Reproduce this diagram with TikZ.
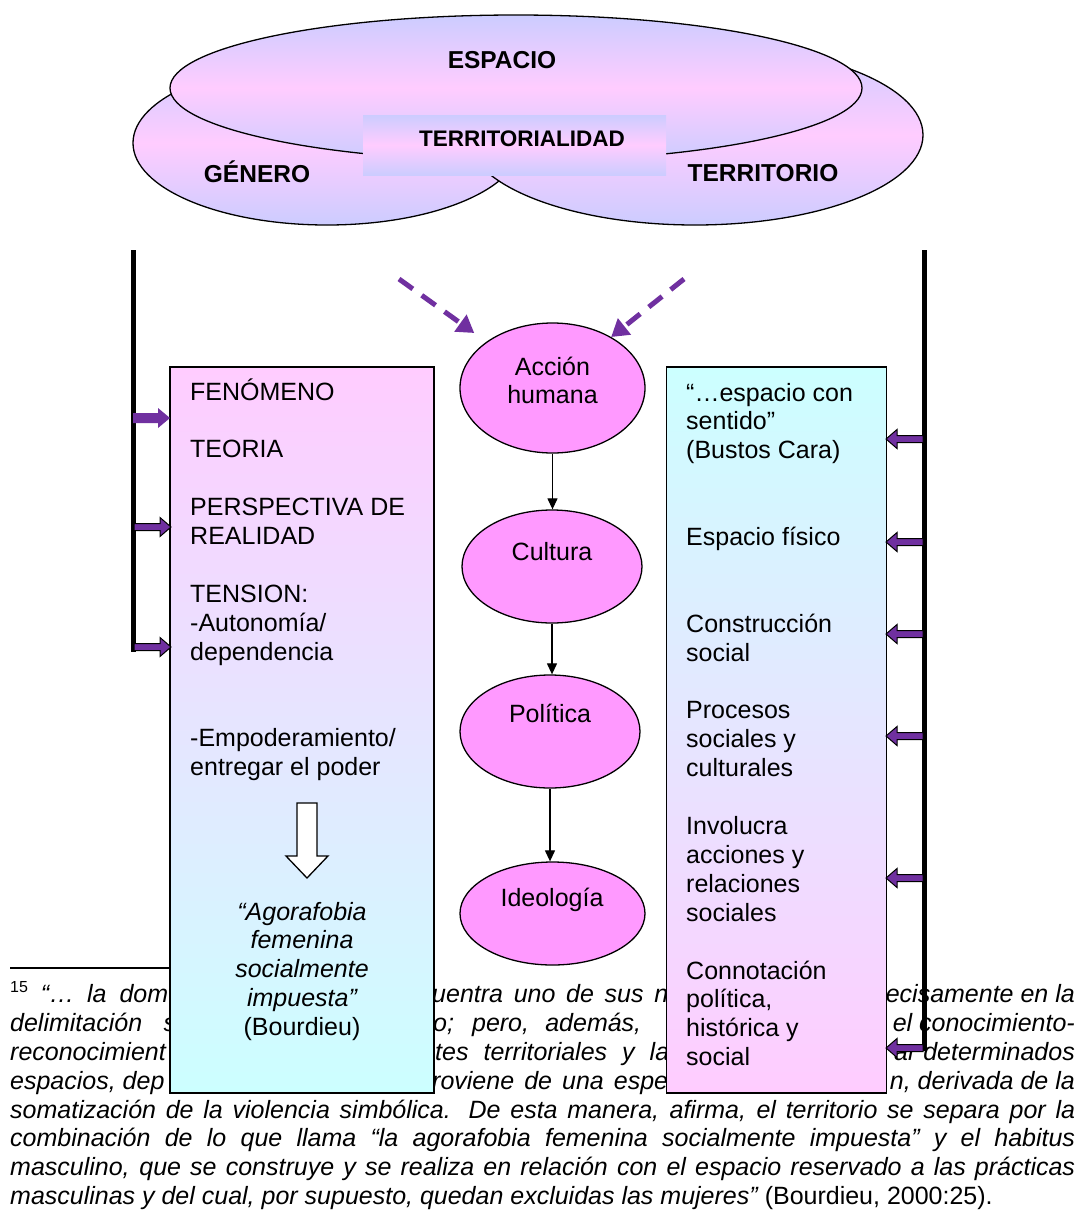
\documentclass[tikz,border=0pt]{standalone}
\usepackage{fontspec}
\setmainfont{Liberation Sans}
\usetikzlibrary{shapes.geometric,arrows.meta}

\definecolor{lav}{HTML}{CCCCFF}
\definecolor{pnk}{HTML}{FFCCFF}
\definecolor{cyn}{HTML}{CCFFFF}
\definecolor{mag}{HTML}{FF99FF}
\definecolor{vio}{HTML}{7030A0}

\tikzset{
  cloudpart/.style={ellipse, draw=black, line width=1.3pt, inner sep=0pt,
    top color=lav, bottom color=lav, middle color=pnk},
  cloudlbl/.style={font=\fontsize{24.5}{28}\selectfont\bfseries, inner sep=0pt, anchor=base},
  listbox/.style={rectangle, draw=black, line width=1.2pt, inner sep=0pt},
  bodytxt/.style={font=\fontsize{25}{28.9}\selectfont, inner sep=0pt, anchor=base west},
  stage/.style={ellipse, draw=black, line width=1.3pt, fill=mag, inner sep=0pt},
  stagetxt/.style={font=\fontsize{25}{28.9}\selectfont, inner sep=0pt, anchor=base},
  flow/.style={line width=1.2pt, -{Triangle[length=11pt,width=10pt]}},
  feed/.style={vio, line width=5pt, dash pattern=on 17pt off 11pt,
    -{Triangle[length=17pt,width=20pt]}},
  bar/.style={line width=5pt},
  fnt/.style={font=\fontsize{25}{28.9}\selectfont\itshape, inner sep=0pt},
  pics/thinarrow/.style={code={
    \filldraw[fill=vio, draw=black, line width=1pt]
      (0,-3.5) -- (26,-3.5) -- (26,-9.5) -- (37,0) -- (26,9.5) -- (26,3.5) -- (0,3.5) -- cycle;}},
  pics/fatarrow/.style={code={
    \fill[vio] (0,-5) -- (25,-5) -- (25,-10) -- (37,0) -- (25,10) -- (25,5) -- (0,5) -- cycle;}},
}

\begin{document}
\begin{tikzpicture}[x=1pt, y=-1pt]
\useasboundingbox (0,0) rectangle (1081,1211);
\fill[white] (0,0) rectangle (1081,1211);

% cloud of concepts
\node[cloudpart, minimum width=388pt, minimum height=164pt] (gen) at (327,143) {};
\node[cloudpart, minimum width=456pt, minimum height=180pt] (ter) at (695,135) {};
\node[cloudpart, minimum width=692pt, minimum height=146pt] (esp) at (516,88) {};
\node[rectangle, inner sep=0pt, minimum width=303pt, minimum height=60pt,
      top color=lav, bottom color=lav, middle color=pnk] (tty) at (514.5,145) {};
\node[cloudlbl] (esp-t) at (502,68) {ESPACIO};
\node[cloudlbl] (gen-t) at (257,182) {GÉNERO};
\node[cloudlbl] (ter-t) at (763,181) {TERRITORIO};
\node[cloudlbl, font=\fontsize{22.5}{26}\selectfont\bfseries] (tty-t) at (522,146) {TERRITORIALIDAD};

% footnote
\draw[line width=1.3pt] (10,968) -- (175,968);
\node[fnt, anchor=base west] (f1a) at (10,1002)
  {\makebox[158pt][s]{\raisebox{10pt}{\fontsize{16}{16}\selectfont\upshape 15} “… la dom}};
\node[fnt, anchor=base west] (f1b) at (432,1002) {\makebox[236pt][s]{uentra uno de sus n}};
\node[fnt, anchor=base east] (f1c) at (1075,1002) {ecisamente en la};
\node[fnt, anchor=base west] (f2a) at (10,1031) {\makebox[166pt][s]{delimitación s}};
\node[fnt, anchor=base west] (f2b) at (433,1031) {\makebox[208pt][s]{o; pero, además,}};
\node[fnt, anchor=base east] (f2c) at (1075,1031) {el conocimiento-};
\node[fnt, anchor=base west] (f3a) at (10,1060) {reconocimient};
\node[fnt, anchor=base west] (f3b) at (435,1060) {\makebox[234pt][s]{tes territoriales y la}};
\node[fnt, anchor=base east] (f3c) at (1075,1060) {ar determinados};
\node[fnt, anchor=base west] (f4a) at (10,1089) {espacios, dep};
\node[fnt, anchor=base west] (f4b) at (432,1089) {\makebox[236pt][s]{roviene de una espe}};
\node[fnt, anchor=base east] (f4c) at (1075,1089) {n, derivada de la};
\node[fnt, anchor=base west] (frest) at (10,1118) {\parbox[t]{1065pt}{%
  \makebox[1065pt][s]{somatización de la violencia simbólica. De esta manera, afirma, el territorio se separa por la}\\
  \makebox[1065pt][s]{combinación de lo que llama “la agorafobia femenina socialmente impuesta” y el habitus}\\
  \makebox[1065pt][s]{masculino, que se construye y se realiza en relación con el espacio reservado a las prácticas}\\
  masculinas y del cual, por supuesto, quedan excluidas las mujeres” {\upshape (Bourdieu, 2000:25).}}};

% side bars
\draw[bar] (133.5,250) -- (133.5,652);
\draw[bar] (924.5,250) -- (924.5,1051);

% left list
\node[listbox, minimum width=264pt, minimum height=726pt, top color=pnk, bottom color=cyn] (lbox) at (302,730) {};
\node[bodytxt] (ltxt) at (190,400) {\parbox[t]{240pt}{\raggedright
  FENÓMENO\\[28.9pt]TEORIA\\[28.9pt]PERSPECTIVA DE\\REALIDAD\\[28.9pt]TENSION:\\-Autonomía/\\dependencia\\[57.8pt]-Empoderamiento/\\entregar el poder}};
\draw[line width=1.3pt, fill=white] (297,803) -- (317,803) -- (317,856) -- (328,856) -- (307,878)
  -- (286,856) -- (297,856) -- cycle;
\node[bodytxt, anchor=base] (ltxt2) at (302,920) {\parbox[t]{240pt}{\centering\itshape
  “Agorafobia\\femenina\\socialmente\\impuesta”\\\upshape(Bourdieu)}};

% right list
\node[listbox, minimum width=220pt, minimum height=726pt, top color=cyn, bottom color=pnk] (rbox) at (776.5,730) {};
\node[bodytxt] (rtxt) at (686,401) {\parbox[t]{195pt}{\raggedright
  “…espacio con\\sentido”\\(Bustos Cara)\\[57.8pt]Espacio físico\\[57.8pt]Construcción\\social\\[28.9pt]Procesos\\sociales y\\culturales\\[28.9pt]Involucra\\acciones y\\relaciones\\sociales\\[28.9pt]Connotación\\política,\\histórica y\\social}};

% central chain
\node[stage, minimum width=185pt, minimum height=130pt] (acc) at (552.5,388) {};
\node[stage, minimum width=180pt, minimum height=113pt] (cul) at (552,566.5) {};
\node[stage, minimum width=180pt, minimum height=113pt] (pol) at (550,731.5) {};
\node[stage, minimum width=185pt, minimum height=103pt] (ide) at (552.5,913.5) {};
\node[stagetxt] (acc-t) at (552.5,375) {\parbox[t]{160pt}{\centering Acción\\humana}};
\node[stagetxt] (cul-t) at (552,560) {Cultura};
\node[stagetxt] (pol-t) at (550,722) {Política};
\node[stagetxt] (ide-t) at (552,906) {Ideología};
\draw[flow] (acc.south) -- (acc.south |- cul.north);
\draw[flow] (cul.south) -- (cul.south |- pol.north);
\draw[flow] (pol.south) -- (pol.south |- ide.north);

% block arrows from the bars
\pic at (133,418) {fatarrow};
\pic at (134,527) {thinarrow};
\pic at (134,647) {thinarrow};
\pic[xscale=-1] at (923,439) {thinarrow};
\pic[xscale=-1] at (923,542) {thinarrow};
\pic[xscale=-1] at (923,634) {thinarrow};
\pic[xscale=-1] at (923,736) {thinarrow};
\pic[xscale=-1] at (923,878) {thinarrow};
\pic[xscale=-1] at (923,1048) {thinarrow};

% dashed influences
\coordinate (fl) at (399,279);
\coordinate (fr) at (684,279);
\draw[feed, shorten >=15pt] (fl) -- (acc.145);
\draw[feed] (fr) -- (acc.41);
\end{tikzpicture}
\end{document}
